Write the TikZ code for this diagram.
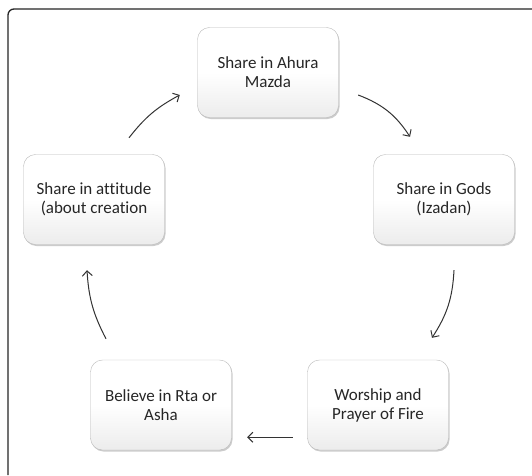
\documentclass[tikz,border=0pt]{standalone}
\usepackage{fontspec}
\setmainfont{Carlito}[Ligatures=NoCommon]
\usepackage{tikz}
\usetikzlibrary{arrows.meta, positioning, shadows}
\tikzset{
  block/.style={
    rectangle, rounded corners=12pt, minimum width=141pt, minimum height=90pt,
    align=center, draw=gray!55, top color=white, bottom color=gray!15,
    middle color=white, text=black!85,
    font=\fontsize{17}{19}\selectfont,
    drop shadow={shadow xshift=1pt, shadow yshift=-1.5pt, opacity=0.4}
  },
  arrow/.style={-{Straight Barb[length=5pt, width=10pt]}, line width=1pt, color=black!80},
  frame/.style={line width=1.3pt, color=black!85, rounded corners=6pt}
}
\begin{document}
\begin{tikzpicture}[x=1pt, y=1pt]
  \useasboundingbox (0,0) rectangle (532,475);
  \fill[white] (0,0) rectangle (532,475);
  \draw[frame] (532,466) -- (8,466) -- (8,0);

  \node[block] (ahura) at (268,402.5) {Share in Ahura\\Mazda};
  \node[block] (gods) at (444,275.5) {Share in Gods\\(Izadan)};
  \node[block] (worship) at (378,70) {Worship and\\Prayer of Fire};
  \node[block] (believe) at (161,70) {Believe in Rta or\\Asha};
  \node[block] (attitude) at (94,275.5) {Share in attitude\\(about creation};

  % clockwise cycle
  \draw[arrow] ([shift={(19.5pt,-22.5pt)}]ahura.east) to[bend left=18] ([shift={(-34pt,17.5pt)}]gods.north);
  \draw[arrow] ([shift={(10pt,-25.5pt)}]gods.south) to[bend left=15] ([shift={(54pt,22pt)}]worship.north);
  \draw[arrow] ([shift={(-14.5pt,13pt)}]worship.south west) -- ([shift={(15.5pt,13pt)}]believe.south east);
  \draw[arrow] ([shift={(-55pt,21pt)}]believe.north) to[bend left=12] ([shift={(-7pt,-25.5pt)}]attitude.south);
  \draw[arrow] ([shift={(35pt,16.5pt)}]attitude.north) to[bend left=12] ([shift={(-17.5pt,-22.5pt)}]ahura.west);
\end{tikzpicture}
\end{document}
